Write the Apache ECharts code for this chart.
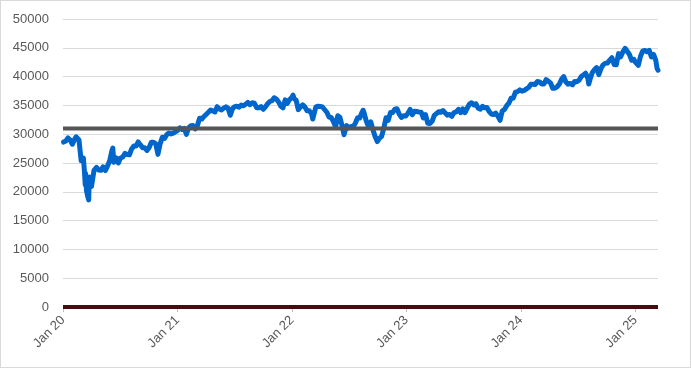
<!DOCTYPE html>
<html>
<head>
<meta charset="utf-8">
<script src="https://cdn.jsdelivr.net/npm/echarts@6/dist/echarts.min.js"></script>
<style>
html,body{margin:0;padding:0;background:#fff;}
#c{width:691px;height:368px;box-sizing:border-box;border:1px solid #d9d9d9;}
</style>
</head>
<body>
<div id="c"></div>
<script>
// Index level readings (date, value)
const dates = [
'2020-01-03','2020-01-10','2020-01-17','2020-01-24','2020-01-31','2020-02-07','2020-02-12','2020-02-21','2020-02-28','2020-03-06','2020-03-09','2020-03-12','2020-03-13','2020-03-16','2020-03-18','2020-03-20','2020-03-23','2020-03-24','2020-03-26','2020-03-27','2020-04-01','2020-04-09','2020-04-17','2020-04-24','2020-05-01','2020-05-08','2020-05-15','2020-05-22','2020-05-29','2020-06-05','2020-06-08','2020-06-11','2020-06-19','2020-06-26','2020-07-02','2020-07-10','2020-07-17','2020-07-24','2020-07-31','2020-08-07','2020-08-14','2020-08-21','2020-08-28','2020-09-04','2020-09-11','2020-09-18','2020-09-25','2020-10-02','2020-10-09','2020-10-16','2020-10-23','2020-10-30','2020-11-06','2020-11-13','2020-11-20','2020-11-27','2020-12-04','2020-12-11','2020-12-18','2020-12-24','2020-12-31',
'2021-01-08','2021-01-15','2021-01-22','2021-01-29','2021-02-05','2021-02-12','2021-02-19','2021-02-26','2021-03-05','2021-03-12','2021-03-19','2021-03-26','2021-04-01','2021-04-09','2021-04-16','2021-04-23','2021-04-30','2021-05-07','2021-05-14','2021-05-21','2021-05-28','2021-06-04','2021-06-11','2021-06-18','2021-06-25','2021-07-02','2021-07-09','2021-07-16','2021-07-23','2021-07-30','2021-08-06','2021-08-13','2021-08-20','2021-08-27','2021-09-03','2021-09-10','2021-09-17','2021-09-24','2021-10-01','2021-10-08','2021-10-15','2021-10-22','2021-10-29','2021-11-05','2021-11-12','2021-11-19','2021-11-26','2021-12-03','2021-12-10','2021-12-17','2021-12-23','2021-12-31',
'2022-01-04','2022-01-07','2022-01-14','2022-01-21','2022-01-28','2022-02-04','2022-02-11','2022-02-18','2022-02-25','2022-03-04','2022-03-08','2022-03-11','2022-03-18','2022-03-25','2022-04-01','2022-04-08','2022-04-14','2022-04-22','2022-04-29','2022-05-06','2022-05-13','2022-05-20','2022-05-27','2022-06-03','2022-06-10','2022-06-16','2022-06-24','2022-07-01','2022-07-08','2022-07-15','2022-07-22','2022-07-29','2022-08-05','2022-08-12','2022-08-16','2022-08-19','2022-08-26','2022-09-02','2022-09-09','2022-09-12','2022-09-16','2022-09-23','2022-09-30','2022-10-07','2022-10-12','2022-10-14','2022-10-21','2022-10-28','2022-11-04','2022-11-11','2022-11-18','2022-11-25','2022-12-02','2022-12-09','2022-12-16','2022-12-23','2022-12-30',
'2023-01-06','2023-01-13','2023-01-20','2023-01-27','2023-02-03','2023-02-10','2023-02-17','2023-02-24','2023-03-03','2023-03-10','2023-03-17','2023-03-24','2023-03-31','2023-04-06','2023-04-14','2023-04-21','2023-04-28','2023-05-05','2023-05-12','2023-05-19','2023-05-26','2023-06-02','2023-06-09','2023-06-16','2023-06-23','2023-06-30','2023-07-07','2023-07-14','2023-07-21','2023-07-28','2023-08-04','2023-08-11','2023-08-18','2023-08-25','2023-09-01','2023-09-08','2023-09-15','2023-09-22','2023-09-29','2023-10-06','2023-10-13','2023-10-20','2023-10-27','2023-11-03','2023-11-10','2023-11-17','2023-11-24','2023-12-01','2023-12-08','2023-12-15','2023-12-22','2023-12-29',
'2024-01-05','2024-01-12','2024-01-19','2024-01-26','2024-02-02','2024-02-09','2024-02-16','2024-02-23','2024-03-01','2024-03-08','2024-03-15','2024-03-22','2024-03-28','2024-04-05','2024-04-12','2024-04-19','2024-04-26','2024-05-03','2024-05-10','2024-05-17','2024-05-24','2024-05-31','2024-06-07','2024-06-14','2024-06-21','2024-06-28','2024-07-05','2024-07-12','2024-07-19','2024-07-26','2024-08-02','2024-08-05','2024-08-09','2024-08-16','2024-08-23','2024-08-30','2024-09-06','2024-09-13','2024-09-20','2024-09-27','2024-10-04','2024-10-11','2024-10-18','2024-10-25','2024-11-01','2024-11-08','2024-11-15','2024-11-22','2024-11-29','2024-12-04','2024-12-13','2024-12-20','2024-12-27','2024-12-31',
'2025-01-03','2025-01-10','2025-01-17','2025-01-24','2025-01-31','2025-02-07','2025-02-14','2025-02-21','2025-02-28','2025-03-07','2025-03-11','2025-03-14'
];
const values = [
28634,28823,29348,28990,28256,29102,29551,28992,25409,25864,23851,21200,23186,20189,19899,19174,18592,20705,22552,21637,20944,23719,24242,23775,23724,24331,23685,24465,25383,27111,27572,25128,25871,25016,25827,26075,26672,26470,26428,27433,27931,27930,28654,28133,27666,27657,27174,27683,28586,28606,28335,26502,28323,29479,29263,29910,30218,30046,30179,30199,30606,
31098,30814,30997,29983,31148,31458,31494,30932,31496,32779,32628,33073,33153,33801,34200,34043,33875,34778,34382,34208,34529,34756,34480,33290,34433,34786,34870,34687,35062,34935,35208,35515,35120,35455,35369,34608,34584,34798,34326,34746,35295,35677,35820,36328,36100,35602,34899,34580,35971,35365,35950,36338,
36800,36231,35912,34265,34725,35089,34738,34079,34058,33615,32632,32944,34755,34861,34818,34721,34451,33811,32977,32899,32197,31262,33213,32900,31393,29927,31500,31097,31338,31288,31899,32845,32803,33761,34152,33706,32283,31318,32151,32381,30822,29590,28726,29297,29210,29635,31083,32861,32403,33748,33746,34347,34430,33477,32920,33204,33147,
33631,34303,33375,33978,33926,33870,33827,32817,33391,31910,31862,32238,33274,33485,33887,33809,34098,33674,33301,33427,33093,33763,33877,34299,33727,34408,33735,34509,35228,35459,35066,35281,34501,34347,34838,34577,34618,33964,33508,33408,33670,33127,32418,34061,34283,34947,35390,36246,36248,37306,37386,37690,
37466,37593,37864,38109,38654,38671,38628,39131,39087,38723,38715,39476,39807,38904,37983,37986,38240,38676,39513,40004,39070,38686,38799,38589,39150,39119,39375,40001,40288,40590,39737,38703,39498,40660,41175,41563,40345,41394,42063,42313,42353,42864,43276,42114,42052,43989,43445,44297,44911,45014,43828,42840,42992,42544,
42732,41938,43488,44424,44545,44303,44546,43428,43841,42802,41433,41100
];
const thresholdValue = 31000;
const baseValue = 0;
const yTicks = [0,5000,10000,15000,20000,25000,30000,35000,40000,45000,50000];
const xTickYears = [2020,2021,2022,2023,2024,2025];
const xStart = '2020-01-01';
const xEnd = '2025-03-14';

function ts(s){ const p = s.split('-').map(Number); return new Date(p[0], p[1]-1, p[2]).getTime(); }
const tickStamps = xTickYears.map(y => new Date(y,0,1).getTime());
const chart = echarts.init(document.getElementById('c'), null, {renderer:'canvas'});
const lastD = dates[dates.length-1];
const txt = {color:'#595959', fontSize:13, fontFamily:'"Liberation Sans", Arial, sans-serif'};
chart.setOption({
  animation:false,
  backgroundColor:'#fff',
  grid:{left:62, right:32, top:18, bottom:60, containLabel:false},
  xAxis:{
    type:'value', min:ts(xStart), max:ts(xEnd),
    axisLine:{show:false},
    axisTick:{show:true, customValues:tickStamps, length:5, lineStyle:{color:'#bfbfbf'}},
    splitLine:{show:false},
    axisLabel:Object.assign({customValues:tickStamps, rotate:45, margin:11,
      formatter:function(v){return 'Jan ' + String(new Date(v).getFullYear()).slice(2);}}, txt)
  },
  yAxis:{
    type:'value', min:yTicks[0], max:yTicks[yTicks.length-1], interval:5000,
    axisLine:{show:false}, axisTick:{show:false},
    splitLine:{lineStyle:{color:'#d9d9d9', width:1}},
    axisLabel:Object.assign({margin:14, formatter:function(v){return String(v);}}, txt)
  },
  series:[
    {type:'line', data:dates.map((d,i)=>[ts(d),values[i]]), showSymbol:false, symbol:'none',
     lineStyle:{color:'#0066cc', width:5, join:'round', cap:'round'}, z:3},
    {type:'line', data:[[ts(xStart),thresholdValue],[ts(lastD),thresholdValue]], symbol:'none',
     lineStyle:{color:'#555555', width:4}, z:4},
    {type:'line', data:[[ts(xStart),baseValue],[ts(lastD),baseValue]], symbol:'none',
     lineStyle:{color:'#4a0a10', width:4}, z:4}
  ]
});
</script>
</body>
</html>
